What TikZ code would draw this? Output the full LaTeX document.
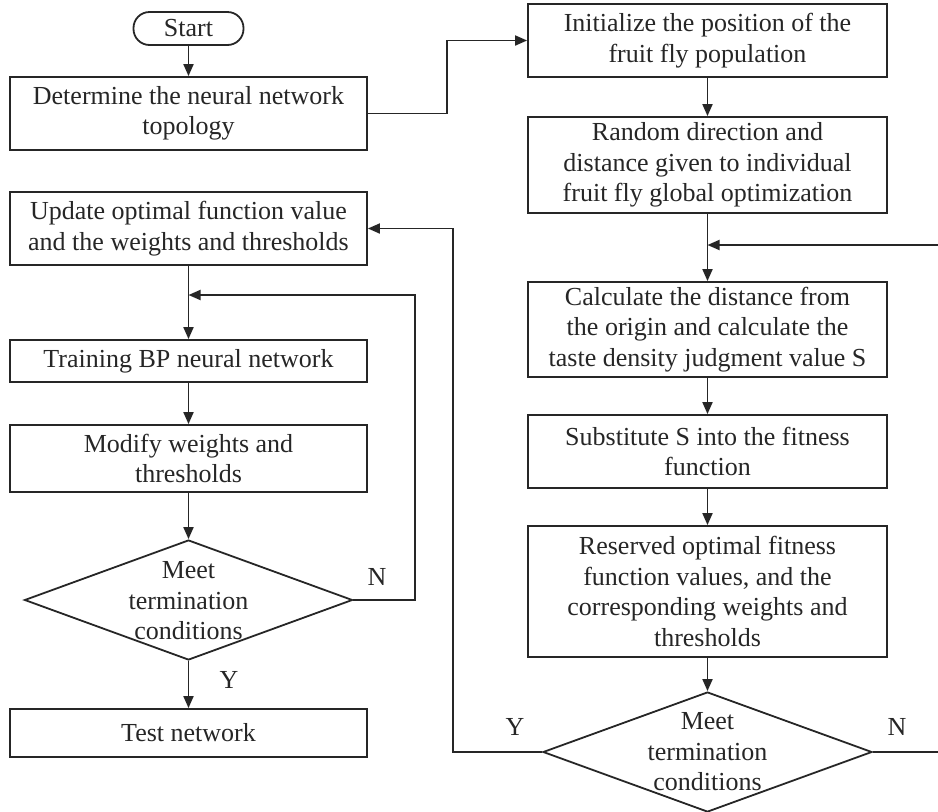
\documentclass[tikz,border=0pt]{standalone}
\usepackage{fontspec}
\setmainfont{Liberation Serif}
\usetikzlibrary{shapes.geometric,arrows.meta}
\begin{document}
\begin{tikzpicture}[x=1pt,y=-1pt,
  every node/.style={font=\fontsize{26}{30.5}\selectfont,text=black!85},
  box/.style={draw=black!85,line width=1.8pt,rectangle,align=center,inner sep=0pt},
  lbox/.style={box,minimum width=357pt},
  rbox/.style={box,minimum width=359pt},
  term/.style={draw=black!85,line width=1.8pt,rectangle,rounded corners=16pt,minimum width=110pt,minimum height=33pt,inner sep=0pt},
  decis/.style={draw=black!85,line width=1.8pt,diamond,inner sep=0pt,minimum width=328pt,minimum height=120pt},
  dtext/.style={align=center,inner sep=0pt},
  lbl/.style={inner sep=0pt},
  arr/.style={draw=black!85,line width=1.8pt,-{Triangle[length=12pt,width=10pt]}},
  ln/.style={draw=black!85,line width=1.8pt}]
\useasboundingbox (0,0) rectangle (938,812);
% left column
\node[term] (start) at (188.5,28.5) {Start};
\node[lbox,minimum height=73pt] (det) at (188.5,113.5) {Determine the neural network\\topology};
\node[lbox,minimum height=73pt] (upd) at (188.5,228.5) {Update optimal function value\\and the weights and thresholds};
\node[lbox,minimum height=42pt] (train) at (188.5,361) {Training BP neural network};
\node[lbox,minimum height=67pt] (mod) at (188.5,458.5) {Modify weights and\\thresholds};
\node[decis] (ldia) at (188.5,600) {};
\node[dtext] (ldiat) at (188.5,601) {Meet\\termination\\conditions};
\node[lbox,minimum height=48pt] (test) at (188.5,733) {Test network};
% right column
\node[rbox,minimum height=73pt] (init) at (707.5,40.5) {Initialize the position of the\\fruit fly population};
\node[rbox,minimum height=96pt] (rand) at (707.5,165) {Random direction and\\distance given to individual\\fruit fly global optimization};
\node[rbox,minimum height=95pt] (calc) at (707.5,329.5) {Calculate the distance from\\the origin and calculate the\\taste density judgment value S};
\node[rbox,minimum height=73pt] (sub) at (707.5,451.5) {Substitute S into the fitness\\function};
\node[rbox,minimum height=131pt] (res) at (707.5,591.5) {Reserved optimal fitness\\function values, and the\\corresponding weights and\\thresholds};
\node[decis,minimum width=329pt] (rdia) at (707.5,752) {};
\node[dtext] (rdiat) at (707.5,752) {Meet\\termination\\conditions};
% labels
\node[lbl] (ly) at (229,680) {Y};
\node[lbl] (ln) at (377,577) {N};
\node[lbl] (ry) at (515,727) {Y};
\node[lbl] (rn) at (897,727) {N};
% helper coordinates
\coordinate (jx) at (447,0);
\coordinate (nx) at (415,295);
\coordinate (yx) at (453,0);
\coordinate (redge) at (938,245);
\coordinate (redgeb) at (938,0);
% connectors
\draw[arr] (start.south) -- (det.north);
\draw[arr] (det.east) -| (jx |- init.west) -- (init.west);
\draw[arr] (init.south) -- (rand.north);
\draw[arr] (rand.south) -- (calc.north);
\draw[arr] (redge) -- (redge -| calc.north);
\draw[arr] (calc.south) -- (sub.north);
\draw[arr] (sub.south) -- (res.north);
\draw[arr] (res.south) -- (rdia.north);
\draw[ln] (rdia.east) -- (rdia.east -| redgeb);
\draw[arr] (rdia.west) -| (yx |- upd.east) -- (upd.east);
\draw[arr] (upd.south) -- (train.north);
\draw[arr] (train.south) -- (mod.north);
\draw[arr] (mod.south) -- (ldia.north);
\draw[arr] (ldia.east) -| (nx) -- (nx -| upd.south);
\draw[arr] (ldia.south) -- (test.north);
\end{tikzpicture}
\end{document}
